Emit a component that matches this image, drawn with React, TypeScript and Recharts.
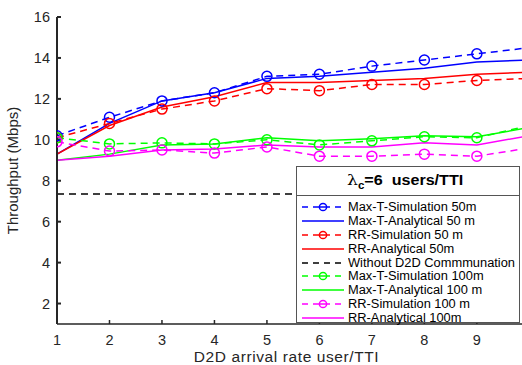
import React from 'react';
import { LineChart, Line, XAxis, YAxis, Label } from 'recharts';

const arrivalRate = [1, 2, 3, 4, 5, 6, 7, 8, 9, 10];
const maxTSim50 = [10.2, 11.1, 11.9, 12.3, 13.1, 13.2, 13.6, 13.9, 14.2, 14.5];
const maxTAna50 = [9.3, 10.8, 11.9, 12.3, 13.0, 13.1, 13.3, 13.5, 13.8, 13.9];
const rrSim50 = [10.1, 10.8, 11.5, 11.9, 12.5, 12.4, 12.7, 12.7, 12.9, 13.0];
const rrAna50 = [9.3, 10.7, 11.6, 12.1, 12.8, 12.8, 12.9, 13.0, 13.2, 13.3];
const withoutD2D = [7.35, 7.35, 7.35, 7.35, 7.35, 7.35, 7.35, 7.35, 7.35, 7.35];
const maxTSim100 = [10.1, 9.8, 9.85, 9.8, 10.0, 9.75, 9.95, 10.15, 10.1, 10.7];
const maxTAna100 = [9.0, 9.3, 9.75, 9.8, 10.1, 9.95, 10.05, 10.2, 10.15, 10.6];
const rrSim100 = [9.9, 9.45, 9.5, 9.35, 9.65, 9.2, 9.2, 9.3, 9.2, 9.6];
const rrAna100 = [9.0, 9.2, 9.5, 9.55, 9.75, 9.65, 9.65, 9.85, 9.75, 10.2];

const xTicks = [1, 2, 3, 4, 5, 6, 7, 8, 9];
const yTicks = [2, 4, 6, 8, 10, 12, 14, 16];

const series = [
  { key: 'maxTSim50', name: 'Max-T-Simulation 50m', color: '#0000ff', sim: true, values: maxTSim50 },
  { key: 'maxTAna50', name: 'Max-T-Analytical 50 m', color: '#0000ff', sim: false, values: maxTAna50 },
  { key: 'rrSim50', name: 'RR-Simulation 50 m', color: '#ff0000', sim: true, values: rrSim50 },
  { key: 'rrAna50', name: 'RR-Analytical 50m', color: '#ff0000', sim: false, values: rrAna50 },
  { key: 'withoutD2D', name: 'Without D2D Commmunation', color: '#000000', sim: false, dashed: true, values: withoutD2D },
  { key: 'maxTSim100', name: 'Max-T-Simulation 100m', color: '#00ff00', sim: true, values: maxTSim100 },
  { key: 'maxTAna100', name: 'Max-T-Analytical 100 m', color: '#00ff00', sim: false, values: maxTAna100 },
  { key: 'rrSim100', name: 'RR-Simulation 100 m', color: '#ff00ff', sim: true, values: rrSim100 },
  { key: 'rrAna100', name: 'RR-Analytical 100m', color: '#ff00ff', sim: false, values: rrAna100 },
];

const data = arrivalRate.map((x, i) => {
  const row: any = { x };
  series.forEach(s => { row[s.key] = s.values[i]; });
  return row;
});

const axisColor = '#262626';
const font = 'Liberation Sans, Arial, sans-serif';

// legend text in the source is a bit wider than plain Arial, so stretch it
const wide = (scale: number): React.CSSProperties => ({
  display: 'inline-block', transform: `scaleX(${scale})`, transformOrigin: 'left center', whiteSpace: 'nowrap',
});

const LegendBox = () => (
  <div style={{
    position: 'absolute', left: 296, top: 166,
    width: 224, height: 157, border: '1px solid #555', background: '#fff',
    fontFamily: font, boxSizing: 'border-box',
  }}>
    <div style={{
      height: 28, borderBottom: '1px solid #555', color: '#000',
      fontWeight: 'bold', fontSize: 14, lineHeight: '26px', paddingLeft: 50,
    }}>
      <span style={wide(1.15)}>
        <span style={{ fontFamily: 'DejaVu Serif, serif', fontWeight: 'normal', fontSize: 15 }}>λ</span>
        <sub style={{ fontSize: 10 }}>c</sub>=6&nbsp; users/TTI
      </span>
    </div>
    <div style={{ paddingTop: 4 }}>
      {series.map(s => (
        <div key={s.key} style={{ display: 'flex', alignItems: 'center', height: 13.9 }}>
          <svg width={51} height={12} style={{ flex: 'none' }}>
            <line x1={5} x2={47} y1={6} y2={6} stroke={s.color} strokeWidth={1.5}
              strokeDasharray={s.sim || s.dashed ? '6 5' : undefined} />
            {s.sim && <circle cx={26} cy={6} r={3.6} fill="#fff" stroke={s.color} strokeWidth={1.5} />}
            {s.sim && <line x1={22.5} x2={29.5} y1={6} y2={6} stroke={s.color} strokeWidth={1.5} />}
          </svg>
          <span style={{ fontSize: 12, color: '#000', ...wide(1.07) }}>{s.name}</span>
        </div>
      ))}
    </div>
  </div>
);

const App: React.FC = () => (
  <div style={{ position: 'fixed', left: 0, top: 0, width: 522, height: 365, background: '#fff', overflow: 'hidden' }}>
    <LineChart width={522} height={365} data={data}
      margin={{ top: 17, right: 0, bottom: 0, left: 0 }}>
      <XAxis xAxisId="top" orientation="top" dataKey="x" type="number" domain={[1, 9.86]}
        allowDataOverflow ticks={xTicks} tick={false} tickSize={-4}
        stroke={axisColor} strokeWidth={1.2} height={0} />
      <XAxis dataKey="x" type="number" domain={[1, 9.86]} allowDataOverflow ticks={xTicks}
        tickSize={-4} tickMargin={15} height={41} stroke={axisColor} strokeWidth={1.5}
        tick={{ fill: axisColor, fontSize: 14.5, fontFamily: font }}>
        <Label value="D2D arrival rate user/TTI" position="insideBottom" offset={3}
          dx={-3} style={{ fill: axisColor, fontSize: 15.5, fontFamily: font, letterSpacing: 0.6 }} />
      </XAxis>
      <YAxis domain={[1, 16]} ticks={yTicks} width={57} tickSize={-4} tickMargin={11}
        stroke={axisColor} strokeWidth={2} interval={0}
        tick={{ fill: axisColor, fontSize: 14.5, fontFamily: font }}>
        <Label value="Throughput (Mbps)" angle={-90} position="insideLeft" offset={13}
          style={{ fill: axisColor, fontSize: 15, fontFamily: font, textAnchor: 'middle' }} />
      </YAxis>
      {series.map(s => (
        <Line key={s.key} dataKey={s.key} name={s.name} type="linear" stroke={s.color}
          strokeWidth={1.5} strokeDasharray={s.sim || s.dashed ? '7 5' : undefined}
          dot={s.sim ? { r: 5, fill: 'none', stroke: s.color, strokeWidth: 1.5, strokeDasharray: '' } : false}
          activeDot={false} isAnimationActive={false} />
      ))}
    </LineChart>
    <LegendBox />
  </div>
);

export default App;
